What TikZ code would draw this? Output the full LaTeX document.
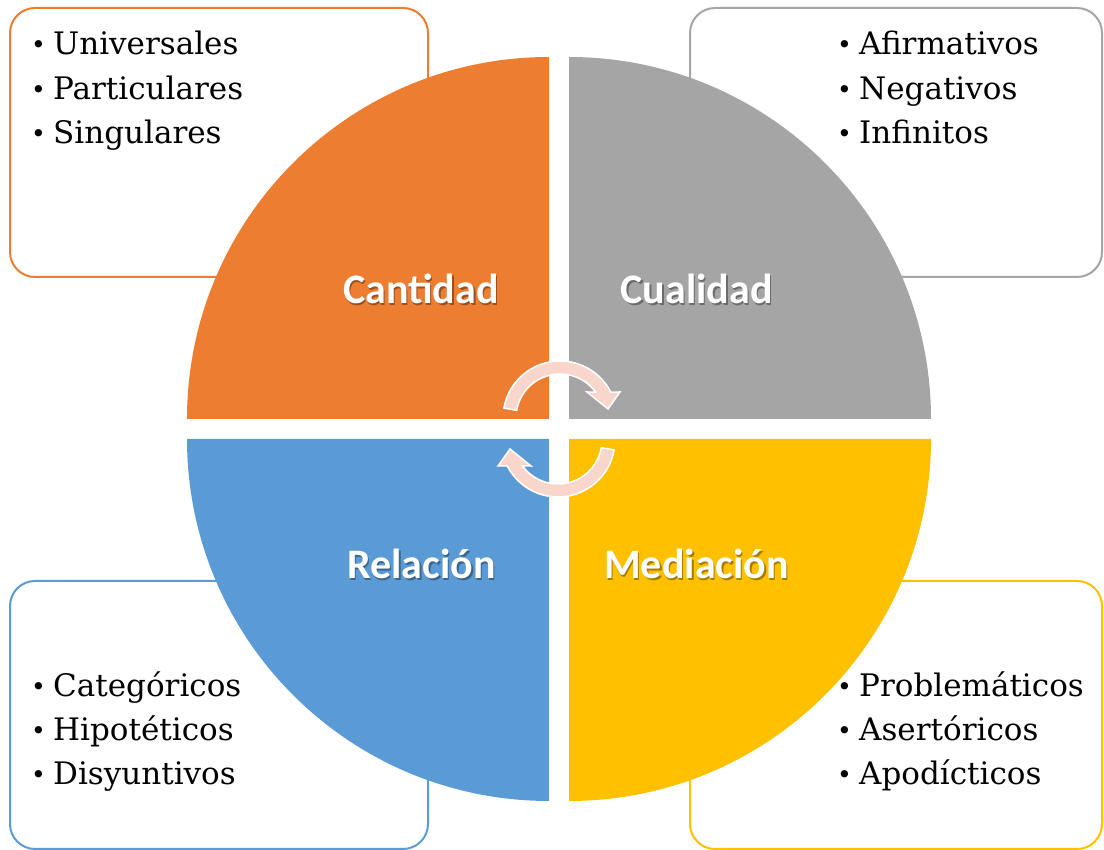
\documentclass[tikz,border=0pt]{standalone}
\usepackage{fontspec}
\setmainfont{DejaVu Serif}
\newfontfamily\labelfont{Carlito}
\definecolor{qorange}{HTML}{ED7D31}
\definecolor{qgray}{HTML}{A5A5A5}
\definecolor{qblue}{HTML}{5B9BD5}
\definecolor{qyellow}{HTML}{FFC000}
\definecolor{arrowpink}{HTML}{F8D6CC}
\tikzset{
  listbox/.style={draw=#1, line width=2pt, rounded corners=25pt, fill=white},
  quad/.style={fill=#1, draw=none},
  item/.style={anchor=base west, inner sep=0pt, font=\fontsize{31}{34}\selectfont},
  qlabel/.style={anchor=base, inner sep=0pt, text=white, font=\labelfont\bfseries\fontsize{42}{46}\selectfont},
  qshadow/.style={anchor=base, inner sep=0pt, text=black, opacity=0.35, font=\labelfont\bfseries\fontsize{42}{46}\selectfont},
  cyc/.style={fill=arrowpink, draw=white, line width=1.5pt, line join=miter}
}
\newcommand{\bul}[1]{\makebox[22pt][l]{\raisebox{1.5pt}{\fontsize{25}{25}\selectfont •}}#1}
\begin{document}
\begin{tikzpicture}[x=1pt,y=1pt]
\useasboundingbox (0,0) rectangle (1104,850);
% boxes
\draw[listbox=qorange] (10,573) rectangle (428,842);
\draw[listbox=qgray] (690,573) rectangle (1102,842);
\draw[listbox=qblue] (10,1) rectangle (428,269);
\draw[listbox=qyellow] (690,1) rectangle (1102,269);
% quadrants
\fill[quad=qorange] (549,431) -- (187,431) arc[start angle=180,end angle=90,radius=362] -- cycle;
\fill[quad=qgray] (569,431) -- (569,793) arc[start angle=90,end angle=0,radius=362] -- cycle;
\fill[quad=qblue] (549,411) -- (549,49) arc[start angle=270,end angle=180,radius=362] -- cycle;
\fill[quad=qyellow] (569,411) -- (931,411) arc[start angle=0,end angle=-90,radius=362] -- cycle;
% lists
\node[item] (u1) at (31,795) {\bul{Universales}};
\node[item] (u2) at (31,750) {\bul{Particulares}};
\node[item] (u3) at (31,706) {\bul{Singulares}};
\node[item] (a1) at (837,795) {\bul{Afirmativos}};
\node[item] (a2) at (837,750) {\bul{Negativos}};
\node[item] (a3) at (837,706) {\bul{Infinitos}};
\node[item] (c1) at (31,153) {\bul{Categóricos}};
\node[item] (c2) at (31,109) {\bul{Hipotéticos}};
\node[item] (c3) at (31,65) {\bul{Disyuntivos}};
\node[item] (p1) at (837,153) {\bul{Problemáticos}};
\node[item] (p2) at (837,109) {\bul{Asertóricos}};
\node[item] (p3) at (837,65) {\bul{Apodícticos}};
% labels
\node[qshadow] at (422.5,544) {Cantidad};
\node[qlabel] (cant) at (421,546) {Cantidad};
\node[qshadow] at (698,544) {Cualidad};
\node[qlabel] (cual) at (696.5,546) {Cualidad};
\node[qshadow] at (423,269) {Relación};
\node[qlabel] (rel) at (421.5,271) {Relación};
\node[qshadow] at (698,269) {Mediación};
\node[qlabel] (med) at (696.5,271) {Mediación};
% cycle arrows
\coordinate (ca) at (560,432);
\coordinate (cb) at (558,410);
\path[cyc] ([shift={(170:57)}]ca) arc[start angle=170,end angle=27,radius=57]
  -- (620,458) -- (608,441) -- (587,458)
  -- ([shift={(36:44)}]ca) arc[start angle=36,end angle=170,radius=44] -- cycle;
\path[cyc] ([shift={(350:57)}]cb) arc[start angle=350,end angle=207,radius=57]
  -- (498,384) -- (510,401) -- (531,384)
  -- ([shift={(216:44)}]cb) arc[start angle=216,end angle=350,radius=44] -- cycle;
\end{tikzpicture}
\end{document}
